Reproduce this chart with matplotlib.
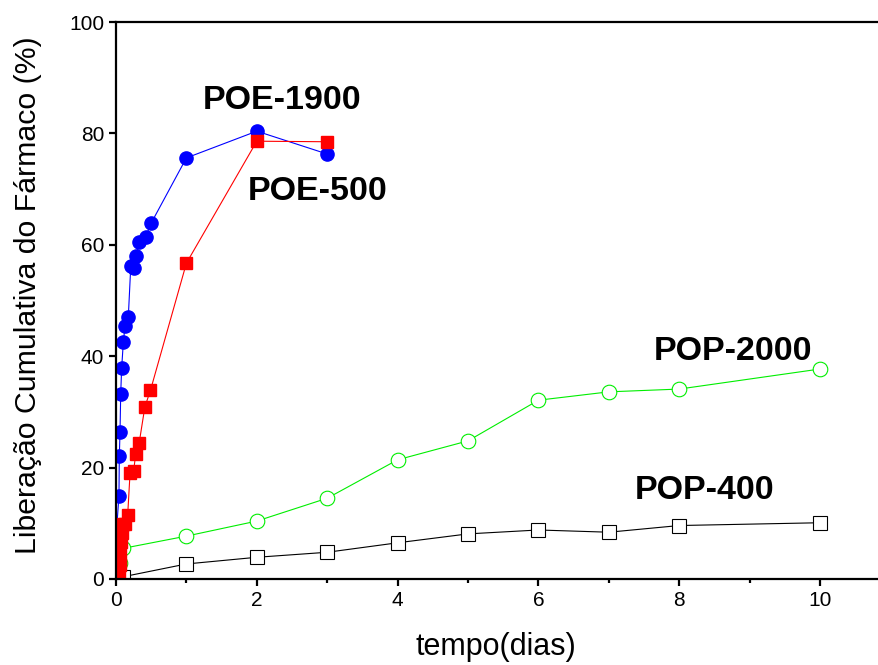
import matplotlib
matplotlib.use("Agg")
import matplotlib.pyplot as plt
from matplotlib.ticker import MultipleLocator

# POE-1900 (circulos azuis)
poe1900_t = [0.005, 0.01, 0.042, 0.047, 0.057, 0.067, 0.08, 0.104, 0.128, 0.175,
             0.21, 0.25, 0.29, 0.33, 0.42, 0.5, 1, 2, 3]
poe1900_y = [2.5, 9.2, 14.9, 22.0, 26.4, 33.3, 37.8, 42.5, 45.4, 47.1,
             56.2, 55.8, 58.0, 60.5, 61.4, 63.9, 75.6, 80.4, 76.3]

# POE-500 (quadrados vermelhos)
poe500_t = [0.047, 0.05, 0.057, 0.06, 0.067, 0.08, 0.104, 0.128, 0.166,
            0.2, 0.25, 0.28, 0.33, 0.41, 0.49, 1, 2, 3]
poe500_y = [1.1, 2.5, 3.4, 5.4, 6.7, 8.2, 9.8, 9.9, 11.5,
            19.1, 19.4, 22.4, 24.5, 30.9, 33.9, 56.7, 78.6, 78.5]

# POP-2000 (circulos abertos verdes)
pop2000_t = [0.05, 0.1, 1, 2, 3, 4, 5, 6, 7, 8, 10]
pop2000_y = [2.9, 5.5, 7.7, 10.4, 14.5, 21.4, 24.8, 32.1, 33.6, 34.1, 37.7]

# POP-400 (quadrados abertos pretos)
pop400_t = [0.1, 1, 2, 3, 4, 5, 6, 7, 8, 10]
pop400_y = [0.4, 2.7, 3.9, 4.8, 6.5, 8.1, 8.8, 8.4, 9.6, 10.1]

font = ['Liberation Sans', 'DejaVu Sans']
plt.rcParams['font.family'] = font

fig = plt.figure(figsize=(8.79, 6.65), dpi=100)
W, H = 879, 665
x0, y0 = 116, 579
px_x, px_y = 70.4, 5.57
ax = fig.add_axes([x0 / W, (H - y0) / H, 11 * px_x / W, 100 * px_y / H])

ax.plot(pop400_t, pop400_y, color='black', lw=0.8, marker='s', ms=9.5,
        mfc='white', mec='black', mew=0.8)
ax.plot(pop2000_t, pop2000_y, color='#00ee00', lw=0.8, marker='o', ms=10.5,
        mfc='white', mec='#00ee00', mew=0.8)
ax.plot(poe1900_t, poe1900_y, color='blue', lw=0.8, marker='o', ms=9.5,
        mfc='blue', mec='blue')
ax.plot(poe500_t, poe500_y, color='red', lw=0.8, marker='s', ms=9,
        mfc='red', mec='red')

ax.set_xlim(0, 11)
ax.set_ylim(0, 100)
ax.xaxis.set_major_locator(MultipleLocator(2))
ax.xaxis.set_minor_locator(MultipleLocator(1))
ax.yaxis.set_major_locator(MultipleLocator(20))

for s in ax.spines.values():
    s.set_linewidth(1.6)
ax.tick_params(which='major', direction='out', length=5, width=1.6, labelsize=15)
ax.tick_params(which='minor', direction='out', length=3, width=1.6)
ax.tick_params(axis='y', which='minor', left=False)

ax.set_xlabel('tempo(dias)', fontsize=22)
ax.set_ylabel('Liberação Cumulativa do Fármaco (%)', fontsize=21.8)
ax.xaxis.set_label_coords(0.4907, -0.095)
ax.yaxis.set_label_coords(-0.0956, 0.51)

lab = dict(fontsize=24.5, fontweight='bold', ha='center', va='center')
ax.text(2.365, 85.9, 'POE-1900', **lab)
ax.text(2.86, 69.6, 'POE-500', **lab)
ax.text(8.77, 40.9, 'POP-2000', **lab)
ax.text(8.36, 15.8, 'POP-400', **lab)

fig.savefig('out.png', dpi=100)
